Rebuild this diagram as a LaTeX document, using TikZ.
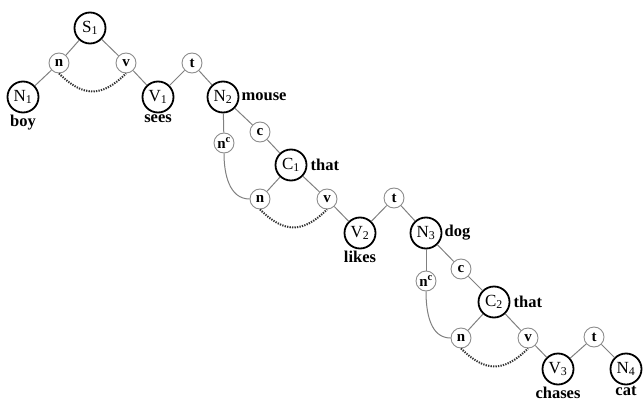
\documentclass[tikz,border=0pt]{standalone}
\usepackage{fontspec}
\setmainfont{Liberation Serif}
\usetikzlibrary{positioning}
\begin{document}
\begin{tikzpicture}[x=1pt, y=-1pt,
    big/.style={circle, draw=black, line width=1.8pt, minimum size=31pt, inner sep=0pt,
        font=\fontsize{17}{17}\selectfont},
    small/.style={circle, draw=black!45, line width=0.9pt, minimum size=20pt, inner sep=0pt,
        font=\bfseries\fontsize{15}{15}\selectfont},
    word/.style={font=\bfseries\fontsize{16.5}{16.5}\selectfont, inner sep=1pt},
    link/.style={draw=black!50, line width=1pt},
    agree/.style={draw=black!80, line width=2pt, dash pattern=on 1.3pt off 1.2pt}]
    \useasboundingbox (0,0) rectangle (644,406);

    % Main clause
    \node[big] (S1) at (90,28) {S\textsubscript{1}};
    \node[small] (n1) at (59,63) {n};
    \node[small] (v1) at (126,63) {v};
    \node[big] (N1) at (23,97) {N\textsubscript{1}};
    \node[big] (V1) at (158,97) {V\textsubscript{1}};
    \node[small] (t1) at (192,63) {t};
    \node[big] (N2) at (223,97) {N\textsubscript{2}};
    \node[word, below=0pt of N1] (boy) {boy};
    \node[word, below=0pt of V1] (sees) {sees};
    \node[word, right=1pt of N2] (mouse) {mouse};

    % First relative clause
    \node[small] (c1) at (260,132) {c};
    \node[small] (nc1) at (224,143) {n\textsuperscript{c}};
    \node[big] (C1) at (291,165) {C\textsubscript{1}};
    \node[small] (n2) at (260,199) {n};
    \node[small] (v2) at (327,199) {v};
    \node[big] (V2) at (360,233) {V\textsubscript{2}};
    \node[small] (t2) at (394,198) {t};
    \node[big] (N3) at (426,233) {N\textsubscript{3}};
    \node[word, right=2pt of C1] (that1) {that};
    \node[word, below=0pt of V2] (likes) {likes};
    \node[word, right=1pt of N3] (dog) {dog};

    % Second relative clause
    \node[small] (c2) at (461,269) {c};
    \node[small] (nc2) at (426,281) {n\textsuperscript{c}};
    \node[big] (C2) at (494,302) {C\textsubscript{2}};
    \node[small] (n3) at (461,338) {n};
    \node[small] (v3) at (528,338) {v};
    \node[big] (V3) at (558,369) {V\textsubscript{3}};
    \node[small] (t3) at (594,337) {t};
    \node[big] (N4) at (626,369) {N\textsubscript{4}};
    \node[word, right=2pt of C2] (that2) {that};
    \node[word, below=0pt of V3] (chases) {chases};
    \node[word, below=0pt of N4] (cat) {cat};

    % Tree links
    \draw[link] (S1) -- (n1) (S1) -- (v1) (n1) -- (N1) (v1) -- (V1);
    \draw[link] (V1) -- (t1) -- (N2) -- (c1) -- (C1);
    \draw[link] (N2) -- (nc1);
    \draw[link] (nc1.south) to[out=-90, in=180] (n2.west);
    \draw[link] (C1) -- (n2) (C1) -- (v2) (v2) -- (V2);
    \draw[link] (V2) -- (t2) -- (N3) -- (c2) -- (C2);
    \draw[link] (N3) -- (nc2);
    \draw[link] (nc2.south) to[out=-90, in=180] (n3.west);
    \draw[link] (C2) -- (n3) (C2) -- (v3) (v3) -- (V3);
    \draw[link] (V3) -- (t3) -- (N4);

    % Agreement (dotted)
    \draw[agree] (n1.south) to[out=-45, in=-135, looseness=1.3] (v1.south);
    \draw[agree] (n2.south) to[out=-45, in=-135, looseness=1.3] (v2.south);
    \draw[agree] (n3.south) to[out=-45, in=-135, looseness=1.3] (v3.south);
\end{tikzpicture}
\end{document}
